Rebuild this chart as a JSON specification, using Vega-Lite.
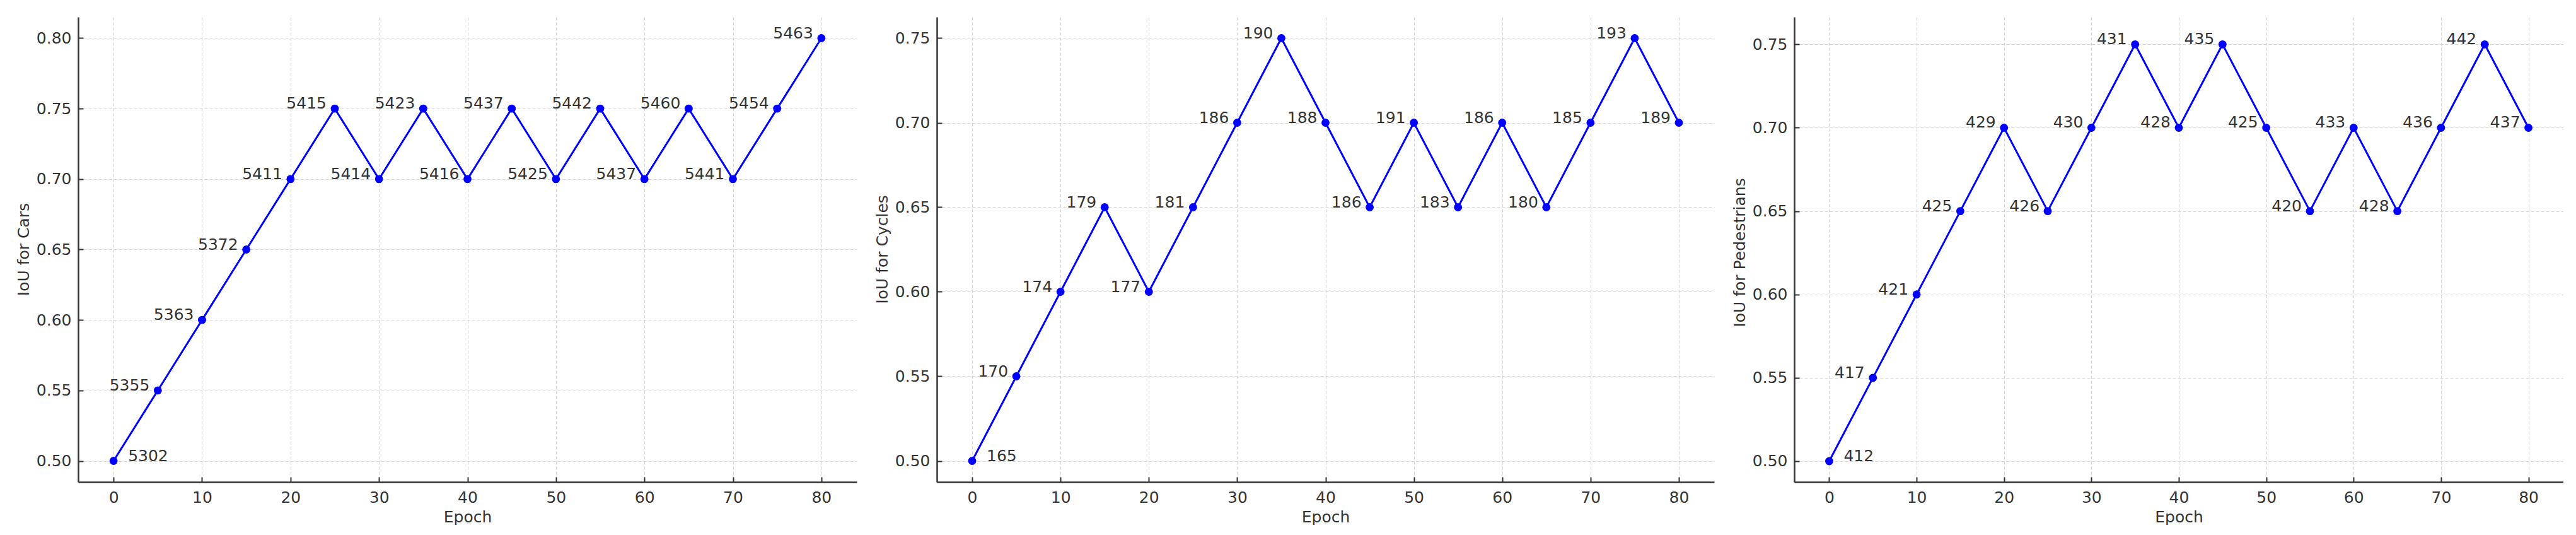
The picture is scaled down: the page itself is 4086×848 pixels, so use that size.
{
  "$schema": "https://vega.github.io/schema/vega-lite/v6.json",
  "padding": {"left": 25, "top": 27, "right": 0, "bottom": 0},
  "background": "white",
  "bounds": "flush",
  "spacing": 127,
  "config": {
    "font": "DejaVu Sans",
    "view": {"stroke": null},
    "axis": {
      "domainColor": "#333333", "domainWidth": 2.5,
      "tickColor": "#333333", "tickWidth": 2, "tickSize": -8,
      "labelFont": "DejaVu Sans", "labelFontSize": 25, "labelColor": "#333333",
      "titleFont": "DejaVu Sans", "titleFontSize": 25, "titleColor": "#333333", "titleFontWeight": "normal",
      "gridColor": "#d5d5d5", "gridDash": [5, 3], "gridWidth": 1.2,
      "labelFlush": false
    },
    "axisX": {"labelPadding": 20, "titleY": 63, "titleBaseline": "alphabetic"},
    "axisY": {"labelPadding": 19, "titleX": -79, "titleBaseline": "alphabetic", "titleAlign": "center", "titleAngle": 270}
  },
  "datasets": {
    "iou": [
      {"cls": "Cars", "epoch": 0, "iou": 0.50, "count": 5302},
      {"cls": "Cars", "epoch": 5, "iou": 0.55, "count": 5355},
      {"cls": "Cars", "epoch": 10, "iou": 0.60, "count": 5363},
      {"cls": "Cars", "epoch": 15, "iou": 0.65, "count": 5372},
      {"cls": "Cars", "epoch": 20, "iou": 0.70, "count": 5411},
      {"cls": "Cars", "epoch": 25, "iou": 0.75, "count": 5415},
      {"cls": "Cars", "epoch": 30, "iou": 0.70, "count": 5414},
      {"cls": "Cars", "epoch": 35, "iou": 0.75, "count": 5423},
      {"cls": "Cars", "epoch": 40, "iou": 0.70, "count": 5416},
      {"cls": "Cars", "epoch": 45, "iou": 0.75, "count": 5437},
      {"cls": "Cars", "epoch": 50, "iou": 0.70, "count": 5425},
      {"cls": "Cars", "epoch": 55, "iou": 0.75, "count": 5442},
      {"cls": "Cars", "epoch": 60, "iou": 0.70, "count": 5437},
      {"cls": "Cars", "epoch": 65, "iou": 0.75, "count": 5460},
      {"cls": "Cars", "epoch": 70, "iou": 0.70, "count": 5441},
      {"cls": "Cars", "epoch": 75, "iou": 0.75, "count": 5454},
      {"cls": "Cars", "epoch": 80, "iou": 0.80, "count": 5463},
      {"cls": "Cycles", "epoch": 0, "iou": 0.50, "count": 165},
      {"cls": "Cycles", "epoch": 5, "iou": 0.55, "count": 170},
      {"cls": "Cycles", "epoch": 10, "iou": 0.60, "count": 174},
      {"cls": "Cycles", "epoch": 15, "iou": 0.65, "count": 179},
      {"cls": "Cycles", "epoch": 20, "iou": 0.60, "count": 177},
      {"cls": "Cycles", "epoch": 25, "iou": 0.65, "count": 181},
      {"cls": "Cycles", "epoch": 30, "iou": 0.70, "count": 186},
      {"cls": "Cycles", "epoch": 35, "iou": 0.75, "count": 190},
      {"cls": "Cycles", "epoch": 40, "iou": 0.70, "count": 188},
      {"cls": "Cycles", "epoch": 45, "iou": 0.65, "count": 186},
      {"cls": "Cycles", "epoch": 50, "iou": 0.70, "count": 191},
      {"cls": "Cycles", "epoch": 55, "iou": 0.65, "count": 183},
      {"cls": "Cycles", "epoch": 60, "iou": 0.70, "count": 186},
      {"cls": "Cycles", "epoch": 65, "iou": 0.65, "count": 180},
      {"cls": "Cycles", "epoch": 70, "iou": 0.70, "count": 185},
      {"cls": "Cycles", "epoch": 75, "iou": 0.75, "count": 193},
      {"cls": "Cycles", "epoch": 80, "iou": 0.70, "count": 189},
      {"cls": "Pedestrians", "epoch": 0, "iou": 0.50, "count": 412},
      {"cls": "Pedestrians", "epoch": 5, "iou": 0.55, "count": 417},
      {"cls": "Pedestrians", "epoch": 10, "iou": 0.60, "count": 421},
      {"cls": "Pedestrians", "epoch": 15, "iou": 0.65, "count": 425},
      {"cls": "Pedestrians", "epoch": 20, "iou": 0.70, "count": 429},
      {"cls": "Pedestrians", "epoch": 25, "iou": 0.65, "count": 426},
      {"cls": "Pedestrians", "epoch": 30, "iou": 0.70, "count": 430},
      {"cls": "Pedestrians", "epoch": 35, "iou": 0.75, "count": 431},
      {"cls": "Pedestrians", "epoch": 40, "iou": 0.70, "count": 428},
      {"cls": "Pedestrians", "epoch": 45, "iou": 0.75, "count": 435},
      {"cls": "Pedestrians", "epoch": 50, "iou": 0.70, "count": 425},
      {"cls": "Pedestrians", "epoch": 55, "iou": 0.65, "count": 420},
      {"cls": "Pedestrians", "epoch": 60, "iou": 0.70, "count": 433},
      {"cls": "Pedestrians", "epoch": 65, "iou": 0.65, "count": 428},
      {"cls": "Pedestrians", "epoch": 70, "iou": 0.70, "count": 436},
      {"cls": "Pedestrians", "epoch": 75, "iou": 0.75, "count": 442},
      {"cls": "Pedestrians", "epoch": 80, "iou": 0.70, "count": 437}
    ]
  },
  "hconcat": [
    {
      "width": 1235, "height": 737,
      "data": {"name": "iou"},
      "transform": [{"filter": "datum.cls === 'Cars'"}],
      "encoding": {
        "x": {"field": "epoch", "type": "quantitative", "scale": {"domain": [-4, 84], "nice": false, "zero": false},
              "axis": {"values": [0, 10, 20, 30, 40, 50, 60, 70, 80], "title": "Epoch"}},
        "y": {"field": "iou", "type": "quantitative", "scale": {"domain": [0.485, 0.815], "nice": false, "zero": false},
              "axis": {"values": [0.5, 0.55, 0.6, 0.65, 0.7, 0.75, 0.8], "format": ".2f", "title": "IoU for Cars", "titleY": 368}}
      },
      "layer": [
        {"mark": {"type": "line", "color": "#0000ff", "strokeWidth": 3}},
        {"mark": {"type": "point", "filled": true, "color": "#0000ff", "size": 165, "opacity": 1}},
        {"transform": [{"filter": "datum.epoch == 0"}],
         "mark": {"type": "text", "align": "left", "baseline": "alphabetic", "dx": 23, "fontSize": 25, "color": "#333333"},
         "encoding": {"text": {"field": "count", "type": "nominal"}}},
        {"transform": [{"filter": "datum.epoch > 0"}],
         "mark": {"type": "text", "align": "right", "baseline": "alphabetic", "dx": -13, "fontSize": 25, "color": "#333333"},
         "encoding": {"text": {"field": "count", "type": "nominal"}}}
      ]
    },
    {
      "width": 1233, "height": 737,
      "data": {"name": "iou"},
      "transform": [{"filter": "datum.cls === 'Cycles'"}],
      "encoding": {
        "x": {"field": "epoch", "type": "quantitative", "scale": {"domain": [-4, 84], "nice": false, "zero": false},
              "axis": {"values": [0, 10, 20, 30, 40, 50, 60, 70, 80], "title": "Epoch"}},
        "y": {"field": "iou", "type": "quantitative", "scale": {"domain": [0.4875, 0.7625], "nice": false, "zero": false},
              "axis": {"values": [0.5, 0.55, 0.6, 0.65, 0.7, 0.75], "format": ".2f", "title": "IoU for Cycles", "titleY": 368}}
      },
      "layer": [
        {"mark": {"type": "line", "color": "#0000ff", "strokeWidth": 3}},
        {"mark": {"type": "point", "filled": true, "color": "#0000ff", "size": 165, "opacity": 1}},
        {"transform": [{"filter": "datum.epoch == 0"}],
         "mark": {"type": "text", "align": "left", "baseline": "alphabetic", "dx": 23, "fontSize": 25, "color": "#333333"},
         "encoding": {"text": {"field": "count", "type": "nominal"}}},
        {"transform": [{"filter": "datum.epoch > 0"}],
         "mark": {"type": "text", "align": "right", "baseline": "alphabetic", "dx": -13, "fontSize": 25, "color": "#333333"},
         "encoding": {"text": {"field": "count", "type": "nominal"}}}
      ]
    },
    {
      "width": 1220, "height": 737,
      "data": {"name": "iou"},
      "transform": [{"filter": "datum.cls === 'Pedestrians'"}],
      "encoding": {
        "x": {"field": "epoch", "type": "quantitative", "scale": {"domain": [-4, 84], "nice": false, "zero": false},
              "axis": {"values": [0, 10, 20, 30, 40, 50, 60, 70, 80], "title": "Epoch"}},
        "y": {"field": "iou", "type": "quantitative", "scale": {"domain": [0.4875, 0.7664], "nice": false, "zero": false},
              "axis": {"values": [0.5, 0.55, 0.6, 0.65, 0.7, 0.75], "format": ".2f", "title": "IoU for Pedestrians", "titleY": 373}}
      },
      "layer": [
        {"mark": {"type": "line", "color": "#0000ff", "strokeWidth": 3}},
        {"mark": {"type": "point", "filled": true, "color": "#0000ff", "size": 165, "opacity": 1}},
        {"transform": [{"filter": "datum.epoch == 0"}],
         "mark": {"type": "text", "align": "left", "baseline": "alphabetic", "dx": 23, "fontSize": 25, "color": "#333333"},
         "encoding": {"text": {"field": "count", "type": "nominal"}}},
        {"transform": [{"filter": "datum.epoch > 0"}],
         "mark": {"type": "text", "align": "right", "baseline": "alphabetic", "dx": -13, "fontSize": 25, "color": "#333333"},
         "encoding": {"text": {"field": "count", "type": "nominal"}}}
      ]
    }
  ]
}
